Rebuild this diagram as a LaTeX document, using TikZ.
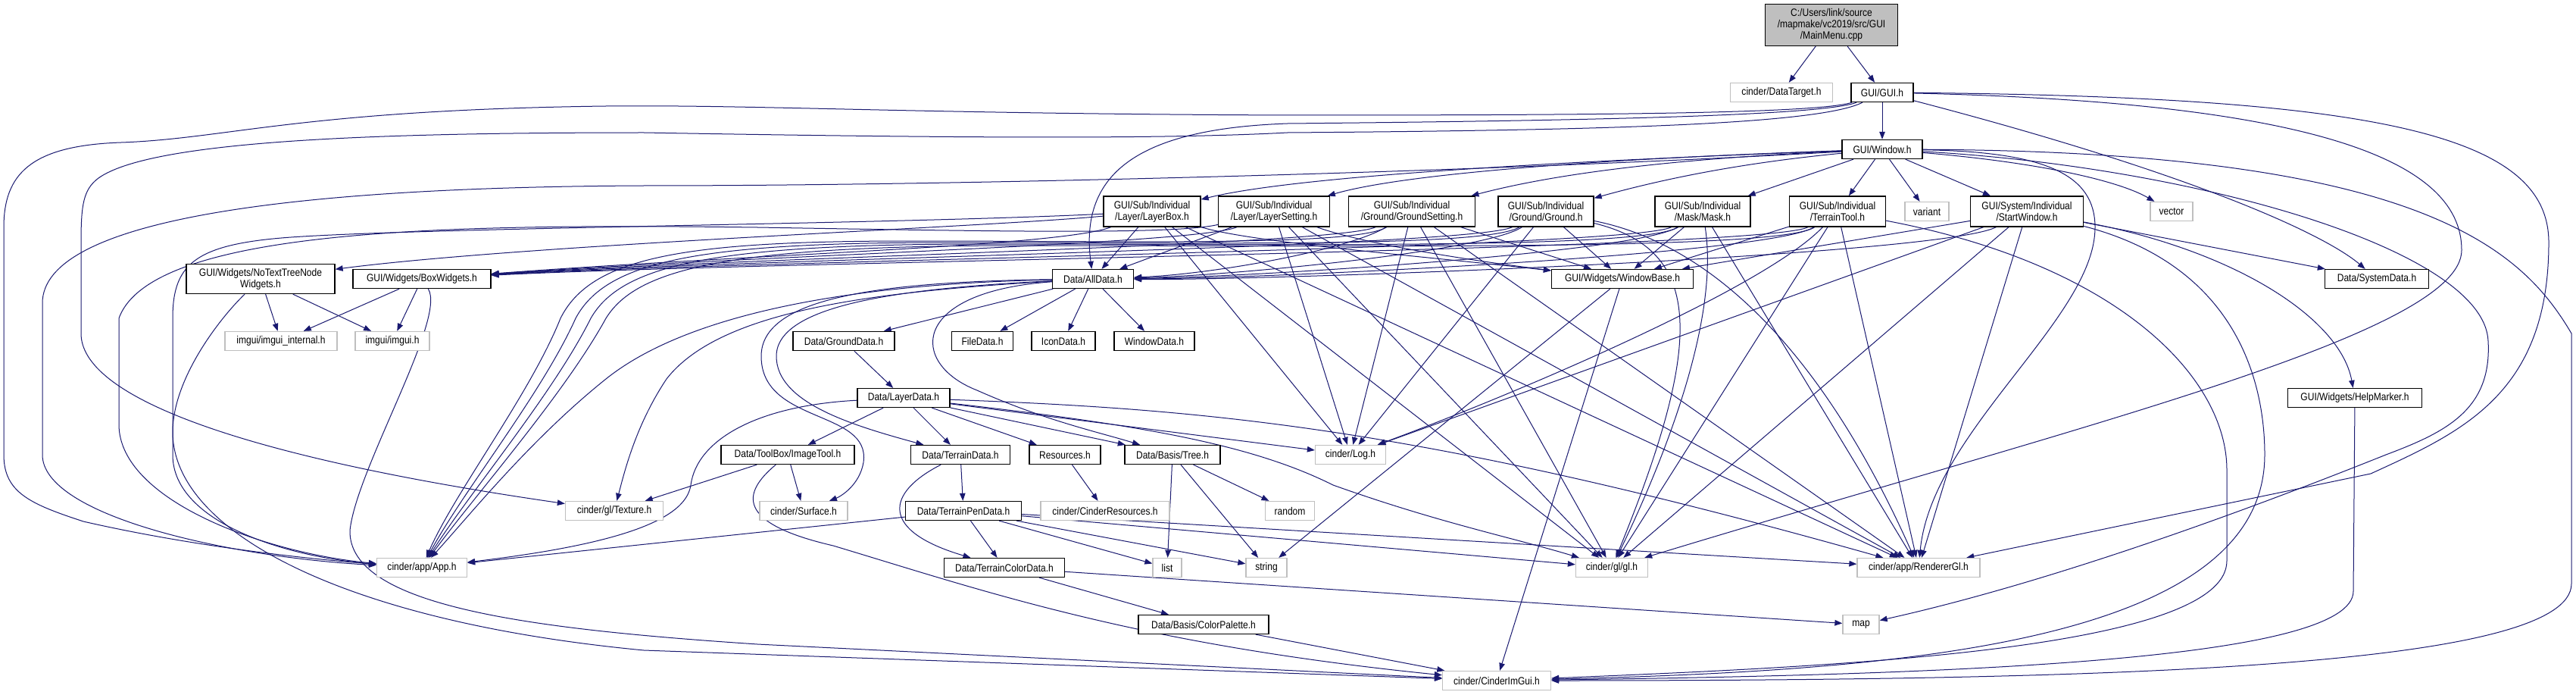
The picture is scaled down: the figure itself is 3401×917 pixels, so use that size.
\documentclass[tikz,border=0pt]{standalone}
\usepackage{fontspec}
\newfontfamily\doxf{Liberation Sans}[FakeStretch=0.86]
\usetikzlibrary{arrows.meta}
\definecolor{edgeblue}{HTML}{191970}
\definecolor{boxgray}{HTML}{BFBFBF}
\pgfdeclarelayer{back}
\pgfdeclarelayer{edges}
\pgfsetlayers{back,edges,main}
\begin{document}
\begin{tikzpicture}[x=1pt,y=-1pt,
  nb/.style={draw=black, fill=white, line width=1.3pt, inner sep=0pt, align=center, minimum height=25pt, font=\doxf\fontsize{14pt}{15pt}\selectfont},
  ng/.style={nb, draw=boxgray},
  two/.style={minimum height=40pt},
  e/.style={draw=edgeblue, line width=1pt, -{Triangle[length=10pt,width=7.5pt]}}]
\useasboundingbox (0,0) rectangle (3401,917);
\begin{pgfonlayer}{back}
\fill[white] (0,0) rectangle (3401,917);
\end{pgfonlayer}
% ---------------- nodes ----------------
\node[nb, fill=boxgray, minimum width=175pt, minimum height=55pt] (nmain) at (2418,33) {C:/Users/link/source\\/mapmake/vc2019/src/GUI\\/MainMenu.cpp};
\node[ng, minimum width=135pt] (ndt) at (2352,122) {cinder/DataTarget.h};
\node[nb, minimum width=82pt] (ngui) at (2485,122) {GUI/GUI.h};
\node[nb, minimum width=106pt] (nwin) at (2485,197) {GUI/Window.h};
\node[nb, two, minimum width=128pt] (nlb) at (1521,279) {GUI/Sub/Individual\\/Layer/LayerBox.h};
\node[nb, two, minimum width=147pt] (nls) at (1682,279) {GUI/Sub/Individual\\/Layer/LayerSetting.h};
\node[nb, two, minimum width=167pt] (ngs) at (1864,279) {GUI/Sub/Individual\\/Ground/GroundSetting.h};
\node[nb, two, minimum width=126pt] (ngr) at (2041,279) {GUI/Sub/Individual\\/Ground/Ground.h};
\node[nb, two, minimum width=126pt] (nmask) at (2248,279) {GUI/Sub/Individual\\/Mask/Mask.h};
\node[nb, two, minimum width=127pt] (ntt) at (2426,279) {GUI/Sub/Individual\\/TerrainTool.h};
\node[ng, minimum width=58pt] (nvar) at (2544,279) {variant};
\node[nb, two, minimum width=149pt] (nsw) at (2676,279) {GUI/System/Individual\\/StartWindow.h};
\node[ng, minimum width=56pt] (nvec) at (2867,279) {vector};
\node[nb, minimum height=39pt, minimum width=196pt] (nnt) at (344,368) {GUI/Widgets/NoTextTreeNode\\Widgets.h};
\node[nb, minimum width=182pt] (nbw) at (557,368) {GUI/Widgets/BoxWidgets.h};
\node[nb, minimum width=107pt] (nall) at (1443,368) {Data/AllData.h};
\node[nb, minimum width=187pt] (nwb) at (2142,368) {GUI/Widgets/WindowBase.h};
\node[nb, minimum width=137pt] (nsys) at (3138,368) {Data/SystemData.h};
\node[ng, minimum width=148pt] (nimi) at (371,450) {imgui/imgui\_internal.h};
\node[ng, minimum width=98pt] (nimg) at (518,450) {imgui/imgui.h};
\node[nb, minimum width=134pt] (ngd) at (1114,450) {Data/GroundData.h};
\node[nb, minimum width=81pt] (nfd) at (1297,450) {FileData.h};
\node[nb, minimum width=84pt] (nid) at (1404,450) {IconData.h};
\node[nb, minimum width=106pt] (nwd) at (1524,450) {WindowData.h};
\node[nb, minimum width=122pt] (nld) at (1193,525) {Data/LayerData.h};
\node[nb, minimum width=177pt] (nhm) at (3109,525) {GUI/Widgets/HelpMarker.h};
\node[nb, minimum width=176pt] (nit) at (1040,600) {Data/ToolBox/ImageTool.h};
\node[nb, minimum width=131pt] (nterr) at (1268,600) {Data/TerrainData.h};
\node[nb, minimum width=94pt] (nres) at (1406,600) {Resources.h};
\node[nb, minimum width=126pt] (ntree) at (1548,600) {Data/Basis/Tree.h};
\node[ng, minimum width=93pt] (nlog) at (1783,600) {cinder/Log.h};
\node[ng, minimum width=129pt] (ntex) at (811,674) {cinder/gl/Texture.h};
\node[ng, minimum width=116pt] (nsurf) at (1061,674) {cinder/Surface.h};
\node[nb, minimum width=153pt] (ntpd) at (1272,674) {Data/TerrainPenData.h};
\node[ng, minimum width=170pt] (ncr) at (1459,674) {cinder/CinderResources.h};
\node[ng, minimum width=65pt] (nrand) at (1703,674) {random};
\node[ng, minimum width=119pt] (napp) at (557,749) {cinder/app/App.h};
\node[nb, minimum width=159pt] (ntcd) at (1326,749) {Data/TerrainColorData.h};
\node[ng, minimum width=38pt] (nlist) at (1541,749) {list};
\node[ng, minimum width=54pt] (nstr) at (1672,749) {string};
\node[ng, minimum width=95pt] (ngl) at (2128,749) {cinder/gl/gl.h};
\node[ng, minimum width=162pt] (nrgl) at (2533,749) {cinder/app/RendererGl.h};
\node[nb, minimum width=172pt] (ncp) at (1589,824) {Data/Basis/ColorPalette.h};
\node[ng, minimum width=48pt] (nmap) at (2457,824) {map};
\node[ng, minimum width=143pt] (ncig) at (1976,898) {cinder/CinderImGui.h};
% ---------------- edges ----------------
\begin{pgfonlayer}{edges}
% main
\draw[e] (nmain) -- (ndt);
\draw[e] (nmain) -- (ngui);
% GUI.h
\draw[e] (ngui) -- (nwin);
\draw[e] (ngui) .. controls (2400,155) and (2000,160) .. (1700,163) .. controls (1500,170) and (1425,230) .. (nall);
\draw[e] (ngui) .. controls (2400,150) and (2100,152) .. (1700,152) .. controls (1200,150) and (1000,138) .. (800,140) .. controls (400,145) and (300,183) .. (160,188) .. controls (40,192) and (5,230) .. (5,300) -- (5,600) .. controls (5,650) and (40,665) .. (110,688) .. controls (250,720) and (400,737) .. (napp);
\draw[e] (ngui) .. controls (2400,165) and (2100,172) .. (1700,175) .. controls (1550,183) and (1300,183) .. (850,175) .. controls (500,175) and (200,185) .. (130,235) .. controls (110,250) and (107,270) .. (107,320) -- (107,440) .. controls (107,520) and (300,600) .. (ntex);
\draw[e] (ngui) .. controls (2900,230) and (3070,310) .. (nsys);
\draw[e] (ngui) .. controls (3050,135) and (3250,210) .. (3250,330) .. controls (3250,440) and (2750,560) .. (ngl);
\draw[e] (ngui) .. controls (3150,128) and (3365,180) .. (3365,320) .. controls (3365,520) and (3250,570) .. (3130,625) -- (nrgl);
% Window.h
\draw[e] (nwin) .. controls (2000,215) and (1700,235) .. (nlb);
\draw[e] (nwin) .. controls (2100,210) and (1850,230) .. (nls);
\draw[e] (nwin) .. controls (2200,210) and (2050,230) .. (ngs);
\draw[e] (nwin) .. controls (2300,215) and (2200,235) .. (ngr);
\draw[e] (nwin) -- (nmask);
\draw[e] (nwin) -- (ntt);
\draw[e] (nwin) -- (nvar);
\draw[e] (nwin) -- (nsw);
\draw[e] (nwin) .. controls (2700,215) and (2800,240) .. (nvec);
\draw[e] (nwin) .. controls (2000,225) and (1300,245) .. (850,245) .. controls (380,247) and (56,290) .. (56,400) -- (56,600) .. controls (56,680) and (300,735) .. (napp);
\draw[e] (nwin) .. controls (2700,200) and (2766,230) .. (2766,300) .. controls (2766,420) and (2550,570) .. (nrgl);
\draw[e] (nwin) .. controls (3200,200) and (3330,330) .. (3395,440) -- (3395,770) .. controls (3395,880) and (2800,898) .. (ncig);
\draw[e] (nwin) .. controls (2900,220) and (3280,330) .. (3285,450) .. controls (3290,540) and (3230,570) .. (3150,600) .. controls (2950,680) and (2700,770) .. (nmap);
% sub nodes -> NoTextTreeNode / BoxWidgets
\draw[e] (nlb) .. controls (1300,300) and (700,322) .. (nnt);
\draw[e] (nlb) .. controls (1400,325) and (1000,335) .. (nbw);
\draw[e] (nls) .. controls (1580,322) and (1000,337) .. (nbw);
\draw[e] (ngs) .. controls (1760,324) and (1000,339) .. (nbw);
\draw[e] (ngr) .. controls (1940,326) and (1000,341) .. (nbw);
\draw[e] (nmask) .. controls (2150,328) and (1000,343) .. (nbw);
\draw[e] (ntt) .. controls (2330,330) and (1000,345) .. (nbw);
% -> AllData
\draw[e] (nlb) -- (nall);
\draw[e] (nls) -- (nall);
\draw[e] (ngs) .. controls (1780,330) and (1600,362) .. (nall);
\draw[e] (ngr) .. controls (1960,332) and (1620,364) .. (nall);
\draw[e] (nmask) .. controls (2160,334) and (1640,366) .. (nall);
\draw[e] (ntt) .. controls (2340,336) and (1660,368) .. (nall);
\draw[e] (nsw) .. controls (2560,338) and (1680,370) .. (nall);
% -> WindowBase
\draw[e] (nlb) .. controls (1650,320) and (1900,340) .. (nwb);
\draw[e] (nls) .. controls (1800,322) and (1950,345) .. (nwb);
\draw[e] (ngs) -- (nwb);
\draw[e] (ngr) -- (nwb);
\draw[e] (nmask) -- (nwb);
\draw[e] (ntt) -- (nwb);
\draw[e] (nsw) -- (nwb);
% -> Log
\draw[e] (nlb) -- (nlog);
\draw[e] (nls) -- (nlog);
\draw[e] (ngs) -- (nlog);
\draw[e] (ngr) -- (nlog);
\draw[e] (ntt) .. controls (2330,380) and (2000,520) .. (nlog);
\draw[e] (nsw) -- (nlog);
% -> gl
\draw[e] (nlb) -- (ngl);
\draw[e] (nls) -- (ngl);
\draw[e] (ngs) -- (ngl);
\draw[e] (ngr) .. controls (2250,330) and (2250,450) .. (ngl);
\draw[e] (nmask) .. controls (2270,420) and (2200,600) .. (ngl);
\draw[e] (ntt) -- (ngl);
\draw[e] (nsw) -- (ngl);
% -> RendererGl
\draw[e] (nlb) -- (nrgl);
\draw[e] (nls) -- (nrgl);
\draw[e] (ngs) -- (nrgl);
\draw[e] (ngr) .. controls (2250,320) and (2400,450) .. (nrgl);
\draw[e] (nmask) -- (nrgl);
\draw[e] (ntt) -- (nrgl);
\draw[e] (nsw) -- (nrgl);
% -> App
\draw[e] (nlb) .. controls (1200,295) and (600,300) .. (400,312) .. controls (260,320) and (228,345) .. (228,420) -- (228,600) .. controls (228,690) and (380,735) .. (napp);
\draw[e] (nls) .. controls (1550,310) and (1300,305) .. (1000,300) .. controls (600,295) and (200,300) .. (157,420) -- (157,560) .. controls (157,660) and (350,730) .. (napp);
\draw[e] (ngs) .. controls (1790,325) and (1500,318) .. (1200,318) .. controls (900,318) and (780,340) .. (740,420) .. controls (700,520) and (600,650) .. (napp);
\draw[e] (ngr) .. controls (1960,327) and (1600,320) .. (1250,320) .. controls (920,320) and (800,345) .. (760,420) .. controls (715,520) and (610,650) .. (napp);
\draw[e] (nmask) .. controls (2170,329) and (1700,322) .. (1300,322) .. controls (940,322) and (820,350) .. (780,420) .. controls (730,520) and (620,650) .. (napp);
\draw[e] (ntt) .. controls (2350,331) and (1800,324) .. (1350,324) .. controls (960,324) and (840,355) .. (800,420) .. controls (745,520) and (630,650) .. (napp);
% StartWindow / TerrainTool extra
\draw[e] (nsw) -- (nsys);
\draw[e] (nsw) .. controls (2950,330) and (3090,420) .. (nhm);
\draw[e] (nsw) .. controls (2950,350) and (2990,500) .. (2990,600) .. controls (2990,850) and (2500,885) .. (ncig);
\draw[e] (ntt) .. controls (2800,350) and (2940,500) .. (2940,620) -- (2940,740) .. controls (2940,860) and (2400,880) .. (ncig);
\draw[e] (nhm) -- (3107,780) .. controls (3107,870) and (2600,890) .. (ncig);
% widgets
\draw[e] (nnt) -- (nimi);
\draw[e] (nnt) -- (nimg);
\draw[e] (nnt) .. controls (290,420) and (228,500) .. (228,570) .. controls (228,700) and (450,820) .. (850,858) -- (ncig);
\draw[e] (nbw) -- (nimi);
\draw[e] (nbw) -- (nimg);
\draw[e] (nbw) .. controls (590,420) and (470,620) .. (462,700) .. controls (460,800) and (700,830) .. (1000,850) -- (ncig);
\draw[e] (nwb) -- (nstr);
\draw[e] (nwb) -- (ncig);
% AllData
\draw[e] (nall) -- (ngd);
\draw[e] (nall) -- (nfd);
\draw[e] (nall) -- (nid);
\draw[e] (nall) -- (nwd);
\draw[e] (nall) .. controls (1200,385) and (1200,480) .. (1290,515) .. controls (1380,555) and (1450,570) .. (ntree);
\draw[e] (nall) .. controls (1200,380) and (1025,400) .. (1025,470) .. controls (1025,530) and (1120,560) .. (nterr);
\draw[e] (nall) .. controls (1150,372) and (1005,395) .. (1005,470) .. controls (1005,560) and (1150,540) .. (1140,610) .. controls (1135,640) and (1110,655) .. (nsurf);
\draw[e] (nall) .. controls (1150,385) and (950,410) .. (880,500) .. controls (840,560) and (825,620) .. (ntex);
\draw[e] (nall) .. controls (1100,375) and (900,420) .. (800,500) .. controls (700,580) and (620,680) .. (napp);
% data chain
\draw[e] (ngd) -- (nld);
\draw[e] (nld) -- (nit);
\draw[e] (nld) -- (nterr);
\draw[e] (nld) -- (nres);
\draw[e] (nld) -- (ntree);
\draw[e] (nld) .. controls (1000,535) and (920,580) .. (912,640) .. controls (905,690) and (800,720) .. (napp);
\draw[e] (nld) -- (nlog);
\draw[e] (nld) .. controls (1600,540) and (1880,565) .. (nrgl);
\draw[e] (nld) .. controls (1500,560) and (1650,585) .. (1760,640) .. controls (1900,690) and (2000,710) .. (ngl);
\draw[e] (nit) -- (ntex);
\draw[e] (nit) -- (nsurf);
\draw[e] (nit) .. controls (980,650) and (970,690) .. (1100,720) .. controls (1300,780) and (1500,850) .. (ncig);
\draw[e] (nterr) -- (ntpd);
\draw[e] (nterr) .. controls (1170,650) and (1160,700) .. (ntcd);
\draw[e] (nres) -- (ncr);
\draw[e] (ntree) -- (nlist);
\draw[e] (ntree) -- (nstr);
\draw[e] (ntree) -- (nrand);
\draw[e] (ntpd) -- (ntcd);
\draw[e] (ntpd) -- (nlist);
\draw[e] (ntpd) -- (nstr);
\draw[e] (ntpd) -- (napp);
\draw[e] (ntpd) -- (ngl);
\draw[e] (ntpd) -- (nrgl);
\draw[e] (ntcd) -- (ncp);
\draw[e] (ntcd) -- (nmap);
\draw[e] (ncp) -- (ncig);
\end{pgfonlayer}
\end{tikzpicture}
\end{document}
